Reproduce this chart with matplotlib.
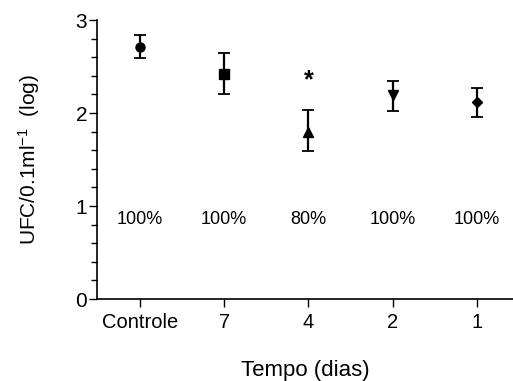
import matplotlib
matplotlib.use("Agg")
import matplotlib.pyplot as plt
from matplotlib.ticker import MultipleLocator

categories = ["Controle", "7", "4", "2", "1"]
means = [2.71, 2.42, 1.80, 2.19, 2.12]
upper = [2.84, 2.65, 2.03, 2.34, 2.27]
lower = [2.59, 2.20, 1.59, 2.02, 1.96]
markers = ["o", "s", "^", "v", "D"]
percents = ["100%", "100%", "80%", "100%", "100%"]
star_index = 2
star_y = 2.35
percent_y = 0.86

plt.rcParams['font.family'] = ['Liberation Sans', 'DejaVu Sans']
plt.rcParams['mathtext.default'] = 'regular'
fig = plt.figure(figsize=(5.13, 3.81), dpi=100)
ax = fig.add_axes([0.189, 0.215, 0.811, 0.7325])

for i, (m, u, l, mk) in enumerate(zip(means, upper, lower, markers)):
    ax.errorbar([i], [m], yerr=[[m - l], [u - m]], fmt=mk, color='black',
                ms=6.5 if mk != 'D' else 5.5, capsize=4.5, elinewidth=1.6, capthick=1.3)

for i, p in enumerate(percents):
    ax.text(i, percent_y, p, ha='center', va='center', fontsize=13)
ax.text(star_index, star_y, "*", ha='center', va='center', fontsize=18, fontweight='bold')

ax.set_xlim(-0.51, 4.43)
ax.set_ylim(0, 3)
ax.set_xticks(range(len(categories)))
ax.set_xticklabels(categories, fontsize=14.5)
ax.yaxis.set_major_locator(MultipleLocator(1))
ax.yaxis.set_minor_locator(MultipleLocator(0.2))
ax.tick_params(axis='y', labelsize=15, length=6, width=1, pad=1)
ax.tick_params(axis='y', which='minor', length=4, width=1)
ax.tick_params(axis='x', length=6, width=1, pad=4)
for s in ['top', 'right']:
    ax.spines[s].set_visible(False)
ax.spines['left'].set_linewidth(1.2)
ax.spines['bottom'].set_linewidth(1.2)

ax.set_ylabel("UFC/0.1ml$^{-1}$  (log)", fontsize=15, labelpad=24)
ax.set_xlabel("Tempo (dias)", fontsize=16, labelpad=20)

fig.savefig("out.png", dpi=100)
